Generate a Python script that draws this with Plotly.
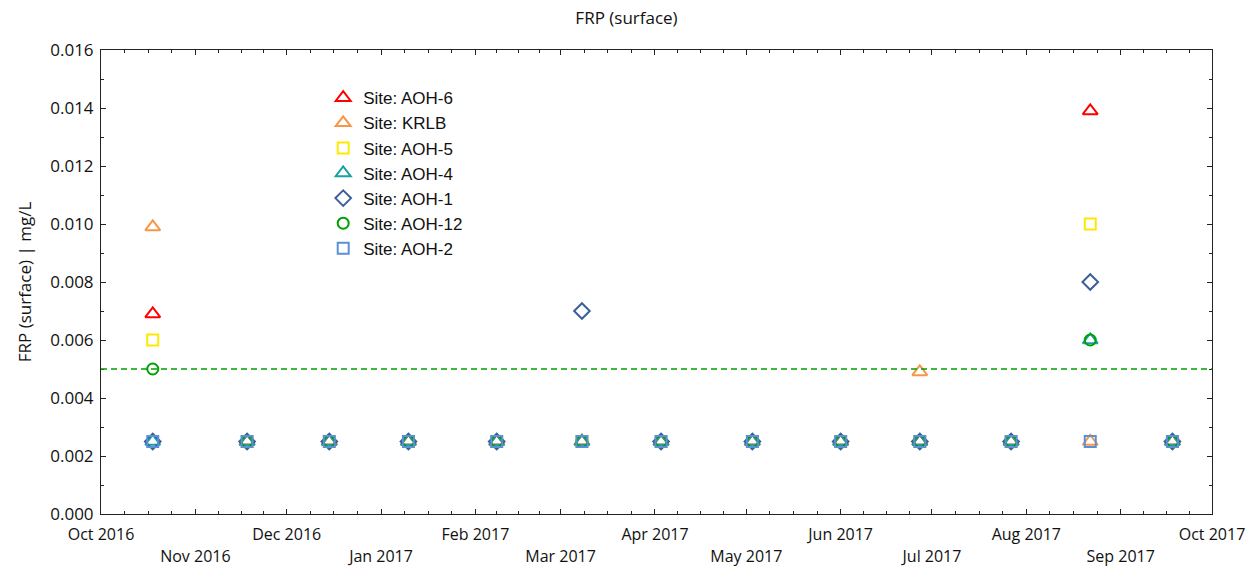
import plotly.graph_objects as go
import pandas as pd

dates = ["2016-10-18", "2016-11-18", "2016-12-15", "2017-01-10", "2017-02-08",
         "2017-03-08", "2017-04-03", "2017-05-03", "2017-06-01", "2017-06-27",
         "2017-07-27", "2017-08-22", "2017-09-18"]

aoh6  = [0.0069, 0.0025, 0.0025, 0.0025, 0.0025, 0.0025, 0.0025, 0.0025, 0.0025, 0.0025, 0.0025, 0.0139, 0.0025]
krlb  = [0.0099, 0.0025, 0.0025, 0.0025, 0.0025, 0.0025, 0.0025, 0.0025, 0.0025, 0.0049, 0.0025, 0.0025, 0.0025]
aoh5  = [0.0060, 0.0025, 0.0025, 0.0025, 0.0025, 0.0025, 0.0025, 0.0025, 0.0025, 0.0025, 0.0025, 0.0100, 0.0025]
aoh4  = [0.0025, 0.0025, 0.0025, 0.0025, 0.0025, 0.0025, 0.0025, 0.0025, 0.0025, 0.0025, 0.0025, 0.0060, 0.0025]
aoh1  = [0.0025, 0.0025, 0.0025, 0.0025, 0.0025, 0.0070, 0.0025, 0.0025, 0.0025, 0.0025, 0.0025, 0.0080, 0.0025]
aoh12 = [0.0050, 0.0025, 0.0025, 0.0025, 0.0025, 0.0025, 0.0025, 0.0025, 0.0025, 0.0025, 0.0025, 0.0060, 0.0025]
aoh2  = [0.0025, 0.0025, 0.0025, 0.0025, 0.0025, 0.0025, 0.0025, 0.0025, 0.0025, 0.0025, 0.0025, 0.0025, 0.0025]

guideline = 0.005

month_ticks = ["2016-10-01", "2016-11-01", "2016-12-01", "2017-01-01", "2017-02-01",
               "2017-03-01", "2017-04-01", "2017-05-01", "2017-06-01", "2017-07-01",
               "2017-08-01", "2017-09-01", "2017-10-01"]
month_labels = ["Oct 2016", "Nov 2016", "Dec 2016", "Jan 2017", "Feb 2017", "Mar 2017",
                "Apr 2017", "May 2017", "Jun 2017", "Jul 2017", "Aug 2017", "Sep 2017",
                "Oct 2017"]

series = [
    ("Site: AOH-6", aoh6, "triangle-up-open", "#FF0000", 13),
    ("Site: KRLB", krlb, "triangle-up-open", "#F79646", 13),
    ("Site: AOH-5", aoh5, "square-open", "#FFE800", 11),
    ("Site: AOH-4", aoh4, "triangle-up-open", "#17A2A2", 13),
    ("Site: AOH-1", aoh1, "diamond-open", "#3B5F99", 12),
    ("Site: AOH-12", aoh12, "circle-open", "#00A000", 11),
    ("Site: AOH-2", aoh2, "square-open", "#5B8FD6", 11),
]

fig = go.Figure()
for name, vals, sym, col, sz in series:
    fig.add_trace(go.Scatter(
        x=dates, y=vals, mode="markers", name=name,
        marker=dict(symbol=sym, color=col, size=sz, line=dict(width=2, color=col)),
    ))

fig.add_shape(type="line", xref="paper", x0=0, x1=1, yref="y", y0=guideline, y1=guideline,
              line=dict(color="#00A000", width=1.3, dash="6px,4px"))

# minor ticks: quarter-month positions
mt = pd.to_datetime(month_ticks)
minor_vals = []
for a, b in zip(mt[:-1], mt[1:]):
    for k in (1, 2, 3):
        minor_vals.append((a + (b - a) * k / 4).strftime("%Y-%m-%d %H:%M"))

even_vals = month_ticks[0::2]
even_text = month_labels[0::2]
odd_vals = month_ticks[1::2]
odd_text = month_labels[1::2]

tick_font = dict(family="Open Sans", size=16, color="#111")

fig.update_layout(
    width=1253, height=569,
    margin=dict(l=101, r=41, t=50, b=55, autoexpand=False),
    paper_bgcolor="white", plot_bgcolor="white",
    title=dict(text="FRP (surface)", x=0.5, xanchor="center", y=0.968, yanchor="middle",
               font=dict(family="Open Sans", size=17, color="#111")),
    font=dict(family="Open Sans", size=15, color="#111"),
    showlegend=True,
    legend=dict(x=0.2, y=0.935, xanchor="left", yanchor="top",
                bgcolor="rgba(0,0,0,0)", borderwidth=0,
                font=dict(family="Liberation Sans", size=17, color="#111"),
                itemwidth=30, tracegroupgap=0),
    xaxis=dict(
        type="date", range=["2016-10-01", "2017-10-01"],
        tickmode="array", tickvals=month_ticks, ticktext=[""] * len(month_ticks),
        ticks="inside", ticklen=5, tickcolor="#222", tickwidth=1,
        showline=True, linecolor="#222", linewidth=1, mirror="ticks",
        showgrid=False, zeroline=False, showticklabels=False, automargin=False,
        minor=dict(tickmode="array", tickvals=minor_vals, ticks="inside", ticklen=3,
                   tickcolor="#222", showgrid=False),
    ),
    xaxis2=dict(
        type="date", range=["2016-10-01", "2017-10-01"], overlaying="x", anchor="y",
        side="bottom", tickmode="array", tickvals=even_vals, ticktext=even_text,
        ticks="", showline=False, showgrid=False, zeroline=False, automargin=False,
        tickfont=tick_font, ticklabelstandoff=9,
    ),
    xaxis3=dict(
        type="date", range=["2016-10-01", "2017-10-01"], overlaying="x", anchor="y",
        side="bottom", tickmode="array", tickvals=odd_vals, ticktext=odd_text,
        ticks="", showline=False, showgrid=False, zeroline=False, automargin=False,
        tickfont=tick_font, ticklabelstandoff=31,
    ),
    yaxis=dict(
        range=[0, 0.016], tickmode="linear", tick0=0, dtick=0.002, tickformat=".3f",
        ticks="inside", ticklen=5, tickcolor="#222", tickwidth=1,
        showline=True, linecolor="#222", linewidth=1, mirror="ticks",
        showgrid=False, zeroline=False, automargin=False,
        title=dict(text="FRP (surface) | mg/L", font=dict(family="Open Sans", size=17, color="#111"),
                   standoff=14),
        tickfont=dict(family="Open Sans", size=17, color="#111"),
        ticklabelstandoff=3,
        minor=dict(dtick=0.001, ticks="inside", ticklen=3, tickcolor="#222", showgrid=False),
    ),
)

# empty helper traces so the label axes are rendered
fig.add_trace(go.Scatter(x=[None], y=[None], xaxis="x2", yaxis="y", showlegend=False, hoverinfo="skip"))
fig.add_trace(go.Scatter(x=[None], y=[None], xaxis="x3", yaxis="y", showlegend=False, hoverinfo="skip"))

fig.write_html("out.html")
